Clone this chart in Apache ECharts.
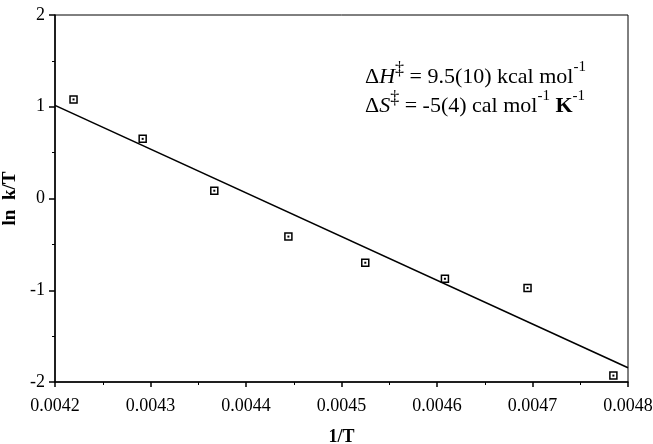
<!DOCTYPE html>
<html>
<head>
<meta charset="utf-8">
<script src="https://cdn.jsdelivr.net/npm/echarts@6/dist/echarts.min.js"></script>
<style>
  html, body { margin: 0; padding: 0; background: #fff; }
  #chart { width: 653px; height: 444px; }
</style>
</head>
<body>
<div id="chart"></div>
<script>
// Data
var invT = [0.0042194, 0.0042918, 0.0043668, 0.0044444, 0.0045249, 0.0046083, 0.0046948, 0.0047847];
var lnKT = [1.08, 0.65, 0.085, -0.415, -0.70, -0.875, -0.975, -1.93];
// fitted line end points
var fitX = [0.0042, 0.0048];
var fitY = [1.015, -1.845];
var xTicks = ["0.0042", "0.0043", "0.0044", "0.0045", "0.0046", "0.0047", "0.0048"];

var serif = "'Liberation Serif', 'DejaVu Serif', serif";

var points = invT.map(function (x, i) { return [x, lnKT[i]]; });
var fitLine = fitX.map(function (x, i) { return [x, fitY[i]]; });

// rich text styles for the annotation
var richStyle = {
  n: { fontFamily: serif, fontSize: 22, fill: "#000", verticalAlign: "bottom", lineHeight: 28 },
  i: { fontFamily: serif, fontSize: 22, fontStyle: "italic", fill: "#000", verticalAlign: "bottom", lineHeight: 28 },
  b: { fontFamily: serif, fontSize: 22, fontWeight: "bold", fill: "#000", verticalAlign: "bottom", lineHeight: 28 },
  d: { fontFamily: serif, fontSize: 18, fill: "#000", verticalAlign: "top", lineHeight: 28 },
  s: { fontFamily: serif, fontSize: 15, fill: "#000", verticalAlign: "top", lineHeight: 28 }
};

var chart = echarts.init(document.getElementById("chart"));

chart.setOption({
  animation: false,
  textStyle: { fontFamily: serif, color: "#000" },

  grid: {
    left: 55,
    right: 25,
    top: 15,
    bottom: 62,
    outerBoundsMode: "none",
    containLabel: false,
    show: true,
    borderColor: "#000",
    borderWidth: 1
  },

  xAxis: {
    type: "value",
    min: 0.0042,
    max: 0.0048,
    interval: 0.0001,
    name: "1/T",
    nameLocation: "middle",
    nameGap: 46,
    nameTextStyle: { fontFamily: serif, fontSize: 18, fontWeight: "bold", color: "#000" },
    axisLine: { onZero: false, lineStyle: { color: "#000", width: 1.5 } },
    axisTick: { length: 5, lineStyle: { color: "#000", width: 1.5 } },
    minorTick: { show: true, splitNumber: 2, length: 3, lineStyle: { color: "#000", width: 1 } },
    splitLine: { show: false },
    axisLabel: {
      fontFamily: serif,
      fontSize: 18,
      color: "#000",
      margin: 15,
      formatter: function (v) {
        var i = Math.round((v - 0.0042) / 0.0001);
        return xTicks[i] || "";
      }
    }
  },

  yAxis: {
    type: "value",
    min: -2,
    max: 2,
    interval: 1,
    name: "ln  k/T",
    nameLocation: "middle",
    nameGap: 30,
    nameTextStyle: { fontFamily: serif, fontSize: 19, fontWeight: "bold", color: "#000" },
    axisLine: { onZero: false, lineStyle: { color: "#000", width: 1.5 } },
    axisTick: { length: 6, lineStyle: { color: "#000", width: 1.5 } },
    minorTick: { show: true, splitNumber: 2, length: 3, lineStyle: { color: "#000", width: 1 } },
    splitLine: { show: false },
    axisLabel: { fontFamily: serif, fontSize: 18, color: "#000", margin: 10 }
  },

  graphic: [
    {
      type: "text",
      left: 365,
      top: 60,
      style: {
        text: "{n|Δ}{i|H}{d|‡}{n| = 9.5(10) kcal mol}{s|-1}",
        rich: richStyle
      }
    },
    {
      type: "text",
      left: 365,
      top: 89,
      style: {
        text: "{n|Δ}{i|S}{d|‡}{n| = -5(4) cal mol}{s|-1}{n| }{b|K}{s|-1}",
        rich: richStyle
      }
    }
  ],

  series: [
    {
      name: "fit",
      type: "line",
      data: fitLine,
      symbol: "none",
      lineStyle: { color: "#000", width: 1.6 },
      z: 2
    },
    {
      name: "data",
      type: "scatter",
      data: points,
      symbol: "rect",
      symbolSize: 7,
      itemStyle: { color: "#fff", borderColor: "#000", borderWidth: 1.5, opacity: 1 },
      z: 3
    },
    {
      name: "dots",
      type: "scatter",
      data: points,
      symbol: "rect",
      symbolSize: 2,
      itemStyle: { color: "#000", opacity: 1 },
      silent: true,
      z: 4
    }
  ]
});
</script>
</body>
</html>
